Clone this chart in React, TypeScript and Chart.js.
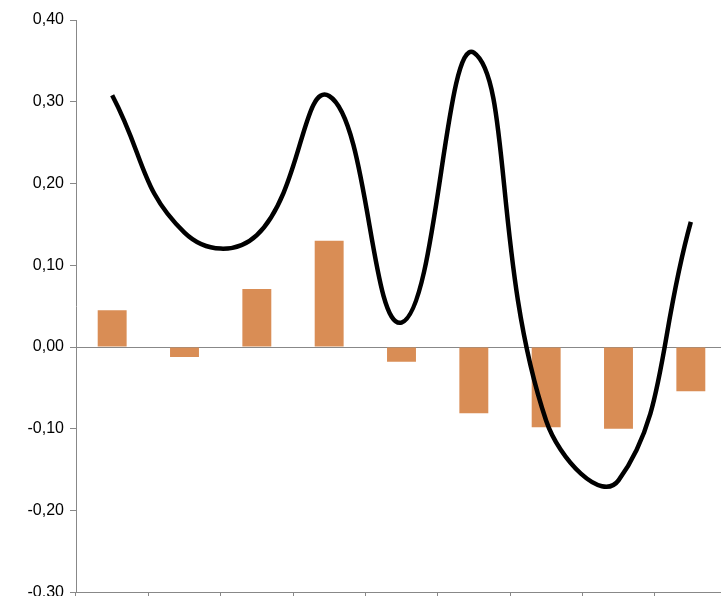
import { Chart, registerables } from "chart.js";
import { useEffect, useRef } from "react";

Chart.register(...registerables);

const categories = ["1", "2", "3", "4", "5", "6", "7", "8", "9"];
const barValues = [0.045, -0.012, 0.071, 0.13, -0.018, -0.081, -0.098, -0.1, -0.054];
const lineValues = [0.308, 0.14, 0.137, 0.307, 0.03, 0.36, -0.09, -0.163, 0.153];

export default function App() {
  const ref = useRef<HTMLCanvasElement | null>(null);
  useEffect(() => {
    const ctx = ref.current?.getContext("2d");
    if (!ctx) return;
    const chart = new Chart(ctx, {
      type: "bar",
      data: {
        labels: categories,
        datasets: [
          {
            type: "line",
            data: lineValues,
            borderColor: "#000000",
            borderWidth: 4.5,
            pointRadius: 0,
            tension: 0.45,
          },
          {
            type: "bar",
            data: barValues,
            backgroundColor: "#D98D55",
            categoryPercentage: 1,
            barPercentage: 0.4,
          },
        ],
      },
      options: {
        animation: false,
        responsive: false,
        layout: { padding: { top: 20, left: 0, right: 0, bottom: 0 } },
        plugins: { legend: { display: false }, tooltip: { enabled: false } },
        scales: {
          x: {
            offset: true,
            ticks: { display: false },
            grid: {
              offset: true,
              drawOnChartArea: false,
              tickLength: 6,
              tickColor: "#888888",
            },
            border: { color: "#888888" },
            afterFit: (s: any) => {
              s.height = 4;
            },
          },
          y: {
            min: -0.3,
            max: 0.4,
            ticks: {
              stepSize: 0.1,
              color: "#000000",
              font: { family: "Liberation Sans", size: 16 },
              padding: 6,
              callback: (v: any) => Number(v).toFixed(2).replace(".", ","),
            },
            grid: {
              color: (c: any) => (Math.abs(c.tick.value) < 1e-9 ? "#888888" : "rgba(0,0,0,0)"),
              tickColor: "#888888",
              tickLength: 6,
            },
            border: { color: "#888888" },
            afterFit: (s: any) => {
              s.width = 76;
            },
          },
        },
      },
    });
    return () => chart.destroy();
  }, []);
  return (
    <div style={{ position: "fixed", left: 0, top: 0, width: 740, height: 596, overflow: "hidden", background: "#fff" }}>
      <canvas ref={ref} width={727} height={608}></canvas>
    </div>
  );
}
